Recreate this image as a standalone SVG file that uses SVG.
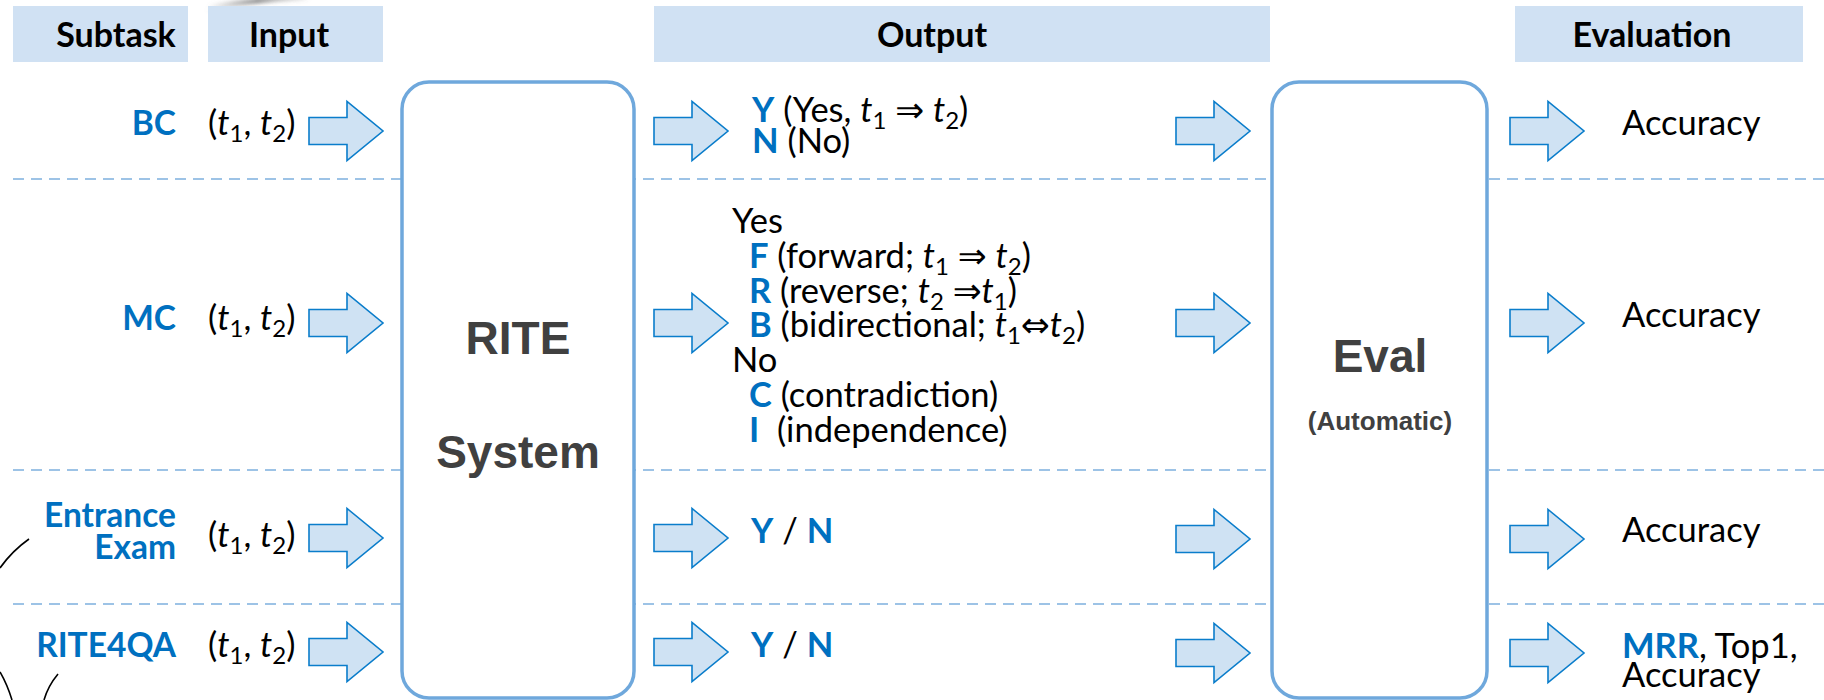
<svg xmlns="http://www.w3.org/2000/svg" width="1824" height="700" viewBox="0 0 1824 700">
  <style>
    .hdr { fill: #D0E1F3; }
    .ht { font-family: Lato, "DejaVu Sans", sans-serif; font-weight: bold; font-size: 34px; fill: #000; text-anchor: middle; }
    .lbl { font-family: Lato, "DejaVu Sans", sans-serif; font-weight: bold; font-size: 33.5px; fill: #0070C0; text-anchor: end; }
    .tx { font-family: Lato, "DejaVu Sans", sans-serif; font-size: 34.5px; fill: #000; }
    .b { font-weight: bold; fill: #0070C0; }
    .it { font-style: italic; }
    .sub { font-size: 24px; }
    .box { fill: #fff; stroke: #6FA8DC; stroke-width: 3.5; }
    .arrow { fill: #CFE2F3; stroke: #0A7DCB; stroke-width: 1.6; }
    .dash { stroke: #9DC3E6; stroke-width: 2; stroke-dasharray: 11 7; fill: none; }
    .big { font-family: "Liberation Sans", Arial, sans-serif; font-weight: bold; font-size: 46px; fill: #404040; text-anchor: middle; }
    .stroke { fill: none; stroke: #000; stroke-width: 1.6; }
  </style>
  <defs>
    <path id="blockArrow" class="arrow" d="M0,-13.5 H38 V-29.5 L74,0 L38,29.5 V13.5 H0 Z"/>
    <linearGradient id="smudgeGrad" x1="0" y1="0" x2="1" y2="0">
      <stop offset="0" stop-color="#888" stop-opacity="0"/>
      <stop offset="0.5" stop-color="#555" stop-opacity="0.8"/>
      <stop offset="1" stop-color="#666" stop-opacity="0.2"/>
    </linearGradient>
    <filter id="soft" x="-20%" y="-100%" width="140%" height="300%">
      <feGaussianBlur stdDeviation="2"/>
    </filter>
  </defs>

  <rect width="1824" height="700" fill="#fff"/>

  <!-- stray marks along the edges -->
  <path d="M206,12 Q245,2 310,-1 L300,-3 Q240,-2 210,5 Z" fill="url(#smudgeGrad)" filter="url(#soft)"/>
  <path class="stroke" d="M29,539 Q12,551 0,568"/>
  <path class="stroke" d="M0,672 Q7,684 12,700"/>
  <path class="stroke" d="M58,674 Q48,686 44,700"/>

  <!-- row separators -->
  <g id="separators">
    <line class="dash" x1="13" y1="179" x2="1824" y2="179"/>
    <line class="dash" x1="13" y1="470" x2="1824" y2="470"/>
    <line class="dash" x1="13" y1="604" x2="1824" y2="604"/>
  </g>

  <!-- column headers -->
  <g id="header-subtask">
    <rect class="hdr" x="13" y="6" width="175" height="56"/>
    <text class="ht" x="116" y="47">Subtask</text>
  </g>
  <g id="header-input">
    <rect class="hdr" x="208" y="6" width="175" height="56"/>
    <text class="ht" x="289" y="47">Input</text>
  </g>
  <g id="header-output">
    <rect class="hdr" x="654" y="6" width="616" height="56"/>
    <text class="ht" x="932" y="47">Output</text>
  </g>
  <g id="header-evaluation">
    <rect class="hdr" x="1515" y="6" width="288" height="56"/>
    <text class="ht" x="1652" y="47">Evaluation</text>
  </g>

  <!-- processing blocks -->
  <g id="rite-system">
    <rect class="box" x="402" y="82" width="232" height="616" rx="27"/>
    <text class="big" x="518" y="354">RITE</text>
    <text class="big" x="518" y="468">System</text>
  </g>
  <g id="eval">
    <rect class="box" x="1272" y="82" width="215" height="616" rx="27"/>
    <text class="big" x="1380" y="372">Eval</text>
    <text class="big" x="1380" y="430" style="font-size:26px">(Automatic)</text>
  </g>

  <!-- subtask labels and inputs -->
  <g id="row-bc">
    <text class="lbl" x="176" y="135">BC</text>
    <text class="tx" x="208" y="135">(<tspan class="it">t</tspan><tspan class="sub" dy="7">1</tspan><tspan dy="-7">, </tspan><tspan class="it">t</tspan><tspan class="sub" dy="7">2</tspan><tspan dy="-7">)</tspan></text>
  </g>
  <g id="row-mc">
    <text class="lbl" x="176" y="330">MC</text>
    <text class="tx" x="208" y="330">(<tspan class="it">t</tspan><tspan class="sub" dy="7">1</tspan><tspan dy="-7">, </tspan><tspan class="it">t</tspan><tspan class="sub" dy="7">2</tspan><tspan dy="-7">)</tspan></text>
  </g>
  <g id="row-entrance">
    <text class="lbl" x="176" y="527">Entrance</text>
    <text class="lbl" x="176" y="559">Exam</text>
    <text class="tx" x="208" y="547">(<tspan class="it">t</tspan><tspan class="sub" dy="7">1</tspan><tspan dy="-7">, </tspan><tspan class="it">t</tspan><tspan class="sub" dy="7">2</tspan><tspan dy="-7">)</tspan></text>
  </g>
  <g id="row-rite4qa">
    <text class="lbl" x="176" y="657">RITE4QA</text>
    <text class="tx" x="208" y="657">(<tspan class="it">t</tspan><tspan class="sub" dy="7">1</tspan><tspan dy="-7">, </tspan><tspan class="it">t</tspan><tspan class="sub" dy="7">2</tspan><tspan dy="-7">)</tspan></text>
  </g>

  <!-- outputs -->
  <g id="output-bc">
    <text class="tx" x="752" y="122"><tspan class="b">Y</tspan> (Yes, <tspan class="it">t</tspan><tspan class="sub" dy="7">1</tspan><tspan dy="-7"> ⇒  </tspan><tspan class="it">t</tspan><tspan class="sub" dy="7">2</tspan><tspan dy="-7">)</tspan></text>
    <text class="tx" x="752" y="153"><tspan class="b">N</tspan> (No)</text>
  </g>
  <g id="output-mc">
    <text class="tx" x="732" y="233">Yes</text>
    <text class="tx" x="749" y="268"><tspan class="b">F</tspan> (forward; <tspan class="it">t</tspan><tspan class="sub" dy="7">1</tspan><tspan dy="-7"> ⇒  </tspan><tspan class="it">t</tspan><tspan class="sub" dy="7">2</tspan><tspan dy="-7">)</tspan></text>
    <text class="tx" x="749" y="303"><tspan class="b">R</tspan> (reverse; <tspan class="it">t</tspan><tspan class="sub" dy="7">2</tspan><tspan dy="-7"> ⇒</tspan><tspan class="it">t</tspan><tspan class="sub" dy="7">1</tspan><tspan dy="-7">)</tspan></text>
    <text class="tx" x="749" y="337"><tspan class="b">B</tspan> (bidirectional; <tspan class="it">t</tspan><tspan class="sub" dy="7">1</tspan><tspan dy="-7">⇔</tspan><tspan class="it">t</tspan><tspan class="sub" dy="7">2</tspan><tspan dy="-7">)</tspan></text>
    <text class="tx" x="732" y="372">No</text>
    <text class="tx" x="749" y="407"><tspan class="b">C</tspan> (contradiction)</text>
    <text class="tx" x="749" y="442" xml:space="preserve"><tspan class="b">I</tspan>  (independence)</text>
  </g>
  <g id="output-entrance">
    <text class="tx" x="751" y="543"><tspan class="b">Y</tspan> / <tspan class="b">N</tspan></text>
  </g>
  <g id="output-rite4qa">
    <text class="tx" x="751" y="657"><tspan class="b">Y</tspan> / <tspan class="b">N</tspan></text>
  </g>

  <!-- evaluation measures -->
  <g id="measure-bc"><text class="tx" x="1622" y="135">Accuracy</text></g>
  <g id="measure-mc"><text class="tx" x="1622" y="327">Accuracy</text></g>
  <g id="measure-entrance"><text class="tx" x="1622" y="542">Accuracy</text></g>
  <g id="measure-rite4qa">
    <text class="tx" x="1622" y="658"><tspan class="b">MRR</tspan>, Top1,</text>
    <text class="tx" x="1622" y="687">Accuracy</text>
  </g>

  <!-- block arrows between columns -->
  <g id="connectors">
    <use href="#blockArrow" x="309" y="131"/>
    <use href="#blockArrow" x="654" y="131"/>
    <use href="#blockArrow" x="1176" y="131"/>
    <use href="#blockArrow" x="1510" y="131"/>

    <use href="#blockArrow" x="309" y="323"/>
    <use href="#blockArrow" x="654" y="323"/>
    <use href="#blockArrow" x="1176" y="323"/>
    <use href="#blockArrow" x="1510" y="323"/>

    <use href="#blockArrow" x="309" y="538"/>
    <use href="#blockArrow" x="654" y="538"/>
    <use href="#blockArrow" x="1176" y="539"/>
    <use href="#blockArrow" x="1510" y="539"/>

    <use href="#blockArrow" x="309" y="652"/>
    <use href="#blockArrow" x="654" y="652"/>
    <use href="#blockArrow" x="1176" y="653"/>
    <use href="#blockArrow" x="1510" y="653"/>
  </g>
</svg>
